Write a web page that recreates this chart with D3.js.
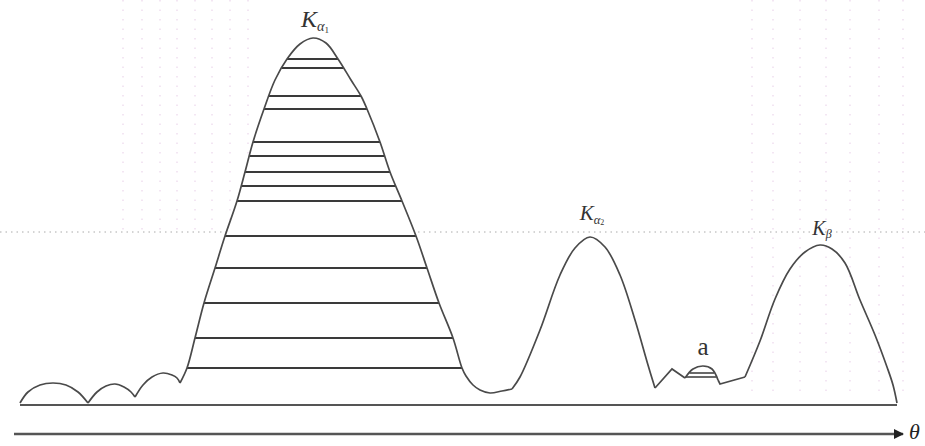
<!DOCTYPE html>
<html>
<head>
<meta charset="utf-8">
<script src="https://cdn.jsdelivr.net/npm/d3@7"></script>
<style>
  body { margin: 0; background: #fff; }
  svg { display: block; }
</style>
</head>
<body>
<svg class="xrd_svg" width="925" height="446"></svg>
<script>
// diffraction profile pieces, [theta, intensity] in arbitrary units
var humpA   = [[0,0.2],[0.8,1.3],[2.0,2.0],[3.3,2.2],[4.6,2.0],[5.8,1.3],[6.8,0.2]];
var humpB   = [[6.8,0.2],[7.7,1.3],[8.6,1.9],[9.5,2.1],[10.4,1.8],[11.1,1.3],[11.5,0.8]];
var humpC   = [[11.5,0.8],[12.3,2.0],[13.2,2.8],[14.3,3.2],[15.2,3.0],[15.7,2.7],[16.0,2.2]];
var peakKa1 = [[16.0,2.2],[16.7,3.7],[17.5,6.7],[18.4,10.2],[19.5,13.7],[20.5,16.9],[21.7,20.4],
               [22.5,23.3],[23.3,26.3],[24.4,29.6],[25.5,32.5],[26.7,34.6],[28.0,36.1],[29.3,36.7],
               [30.6,36.2],[31.8,34.6],[33.1,32.5],[34.1,30.9],[34.7,29.6],[36.0,26.3],[37.0,23.3],
               [38.2,20.4],[39.6,16.9],[40.7,13.7],[41.9,10.2],[43.3,6.7],[44.2,3.7],[44.6,2.9],
               [45.3,2.0],[46.0,1.5],[47.0,1.2],[48.2,1.4],[49.2,1.6]];
var peakKa2 = [[49.2,1.6],[50.0,2.8],[52.0,7.5],[54.0,13.0],[55.5,15.7],[57.0,16.8],[58.5,15.8],
               [60.0,13.0],[61.5,8.5],[62.8,4.0],[63.5,1.7]];
var shoulder = [[63.5,1.7],[65.2,3.6],[66.5,2.7]];
var bumpA   = [[66.5,2.7],[67.3,3.6],[68.3,3.9],[69.2,3.6],[69.8,2.5]];
var valley  = [[69.8,2.5],[70.0,2.1],[72.5,2.8]];
var peakKb  = [[72.5,2.8],[74.0,6.4],[75.5,10.6],[77.0,13.6],[78.5,15.3],[80.0,16.0],[81.2,15.6],
               [82.5,14.2],[84.0,10.5],[85.5,7.0],[86.7,3.8],[87.3,2.0],[87.7,0.2]];

// hatch levels inside the K-alpha1 peak and the small "a" peak
var hatchKa1 = [34.6, 33.7, 30.9, 29.6, 26.3, 24.9, 23.3, 21.9, 20.4, 16.9, 13.7, 10.2, 6.7, 3.7];
var hatchA   = [3.2, 2.8];

var gridY = [17.3];
var gridX = [10.3, 12.2, 14.0, 15.7, 17.5, 19.2, 21.0, 22.8, 73.2, 75.3, 78.0, 80.6, 83.0, 85.9, 88.3];

var labels = [
  {t: 29.5, i: 37.8, k: "K", sub: "α", sub2: "1", size: 24},
  {t: 57.2, i: 18.5, k: "K", sub: "α", sub2: "2", size: 21},
  {t: 80.2, i: 17.0, k: "K", sub: "β", sub2: "", size: 20}
];

var svg = d3.select("svg.xrd_svg");
var x = d3.scaleLinear().domain([0, 87.7]).range([20, 897]);
var y = d3.scaleLinear().domain([0, 36.5]).range([405, 40]);

var smooth = d3.line().x(function(d){ return x(d[0]); }).y(function(d){ return y(d[1]); })
               .curve(d3.curveCatmullRom.alpha(0.5));
var straight = d3.line().x(function(d){ return x(d[0]); }).y(function(d){ return y(d[1]); });

// faint dotted grid
svg.selectAll("line.gx").data(gridX).enter().append("line")
  .attr("class", "gx")
  .attr("x1", function(d){ return x(d); }).attr("x2", function(d){ return x(d); })
  .attr("y1", 0).attr("y2", function(d){ return d < 40 ? y(17.5) : y(0.6); })
  .attr("stroke", "#ecd6ec").attr("stroke-width", 1.2).attr("stroke-dasharray", "1.5,8");

svg.selectAll("line.gy").data(gridY).enter().append("line")
  .attr("class", "gy")
  .attr("x1", 0).attr("x2", 925)
  .attr("y1", function(d){ return y(d); }).attr("y2", function(d){ return y(d); })
  .attr("stroke", "#aaa").attr("stroke-width", 1).attr("stroke-dasharray", "1.5,4");

// white fill under the big peak hides the grid there
var core = peakKa1.slice(1, 27);
var area = d3.area().x(function(d){ return x(d[0]); }).y0(y(0)).y1(function(d){ return y(d[1]); })
             .curve(d3.curveCatmullRom.alpha(0.5));
svg.append("path").attr("d", area(core)).attr("fill", "#fff");

// crossings of a level with a piecewise linear profile
function crossings(pts, level) {
  var xs = [];
  for (var j = 0; j < pts.length - 1; j++) {
    var a = pts[j], b = pts[j+1];
    if ((a[1] - level) * (b[1] - level) <= 0 && a[1] !== b[1]) {
      xs.push(a[0] + (level - a[1]) * (b[0] - a[0]) / (b[1] - a[1]));
    }
  }
  return [d3.min(xs), d3.max(xs)];
}

svg.selectAll("line.hatch").data(hatchKa1).enter().append("line")
  .attr("class", "hatch")
  .attr("x1", function(d){ return x(crossings(core, d)[0]); })
  .attr("x2", function(d){ return x(crossings(core, d)[1]); })
  .attr("y1", function(d){ return y(d); }).attr("y2", function(d){ return y(d); })
  .attr("stroke", "#3a3a3a").attr("stroke-width", 2);

svg.selectAll("line.hatchA").data(hatchA).enter().append("line")
  .attr("class", "hatchA")
  .attr("x1", function(d){ return x(crossings(bumpA, d)[0]); })
  .attr("x2", function(d){ return x(crossings(bumpA, d)[1]); })
  .attr("y1", function(d){ return y(d); }).attr("y2", function(d){ return y(d); })
  .attr("stroke", "#444").attr("stroke-width", 1.6);

// baseline
svg.append("line")
  .attr("x1", x(0)).attr("x2", x(87.7)).attr("y1", y(0)).attr("y2", y(0))
  .attr("stroke", "#555").attr("stroke-width", 2);

// profile
var smoothParts = [humpA, humpB, humpC, peakKa1, peakKa2, bumpA, peakKb];
var straightParts = [shoulder, valley];
svg.selectAll("path.prof").data(smoothParts).enter().append("path")
  .attr("class", "prof").attr("d", smooth)
  .attr("fill", "none").attr("stroke", "#4a4a4a").attr("stroke-width", 1.7);
svg.selectAll("path.profs").data(straightParts).enter().append("path")
  .attr("class", "profs").attr("d", straight)
  .attr("fill", "none").attr("stroke", "#4a4a4a").attr("stroke-width", 1.7);

// theta axis arrow
svg.append("defs").append("marker")
  .attr("id", "arrow").attr("viewBox", "0 0 10 10").attr("refX", 9).attr("refY", 5)
  .attr("markerWidth", 6).attr("markerHeight", 4).attr("markerUnits", "strokeWidth")
  .attr("orient", "auto")
  .append("path").attr("d", "M0,0L10,5L0,10z").attr("fill", "#222");
svg.append("line")
  .attr("x1", x(-0.6)).attr("x2", x(88.3)).attr("y1", y(-2.9)).attr("y2", y(-2.9))
  .attr("stroke", "#555").attr("stroke-width", 2.5).attr("marker-end", "url(#arrow)");
svg.append("text")
  .attr("x", x(88.9)).attr("y", y(-3.4))
  .attr("font-family", "Liberation Serif, serif").attr("font-style", "italic")
  .attr("font-size", 22).attr("fill", "#222").text("θ");

// peak labels
var lab = svg.selectAll("text.lab").data(labels).enter().append("text")
  .attr("class", "lab")
  .attr("x", function(d){ return x(d.t); }).attr("y", function(d){ return y(d.i); })
  .attr("text-anchor", "middle")
  .attr("font-family", "Liberation Serif, serif").attr("font-style", "italic")
  .attr("font-size", function(d){ return d.size; }).attr("fill", "#333");
lab.append("tspan").text(function(d){ return d.k; });
lab.append("tspan").attr("dy", "0.28em").attr("font-size", function(d){ return d.size * 0.6; })
  .text(function(d){ return d.sub; });
lab.append("tspan").attr("dy", "0.2em").attr("font-size", function(d){ return d.size * 0.38; })
  .attr("font-style", "normal").text(function(d){ return d.sub2; });

svg.append("text")
  .attr("x", x(68.3)).attr("y", y(5.0))
  .attr("text-anchor", "middle")
  .attr("font-family", "Liberation Serif, serif")
  .attr("font-size", 25).attr("fill", "#333").text("a");
</script>
</body>
</html>
